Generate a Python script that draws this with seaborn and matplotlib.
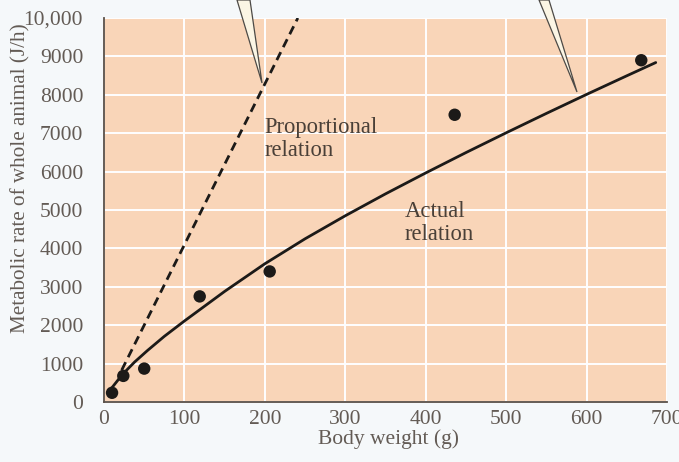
import numpy as np
import pandas as pd
import matplotlib
matplotlib.use("Agg")
from matplotlib import pyplot as plt
from matplotlib.patches import Polygon
import seaborn as sns

# measured animals
body_weight = [10, 24, 50, 119, 206, 436, 668]
metabolic_rate = [240, 680, 870, 2750, 3400, 7480, 8900]

# "actual relation" curve
actual_x = [9, 23, 38, 54, 75, 100, 150, 200, 250, 300, 350, 400,
            450, 500, 550, 600, 650, 686]
actual_y = [350, 720, 1040, 1340, 1710, 2110, 2880, 3600, 4250, 4850,
            5420, 5965, 6495, 7010, 7515, 8010, 8495, 8840]

# "proportional relation" dashed line end points
prop_x = [22, 241]
prop_y = [830, 10000]

x_ticks = [0, 100, 200, 300, 400, 500, 600, 700]
y_ticks = [0, 1000, 2000, 3000, 4000, 5000, 6000, 7000, 8000, 9000, 10000]
y_tick_labels = ["0", "1000", "2000", "3000", "4000", "5000",
                 "6000", "7000", "8000", "9000", "10,000"]

sns.set_theme(style="white")
plt.rcParams['font.family'] = ['Liberation Serif', 'DejaVu Serif']

peach = "#f9d5b8"
ink = "#1c1a18"
spine_col = "#5a5048"
label_col = "#635b55"

fig = plt.figure(figsize=(6.79, 4.62), dpi=100, facecolor="#f5f8fa")
ax = fig.add_axes([104 / 679, 1 - 402 / 462, 563 / 679, 384 / 462])
ax.set_facecolor(peach)

pts = pd.DataFrame({"w": body_weight, "r": metabolic_rate})
act = pd.DataFrame({"w": actual_x, "r": actual_y})
prop = pd.DataFrame({"w": prop_x, "r": prop_y})

sns.lineplot(data=prop, x="w", y="r", ax=ax, color=ink, lw=2.0,
             zorder=3).lines[-1].set_dashes((3.2, 2.0))
sns.lineplot(data=act, x="w", y="r", ax=ax, color=ink, lw=2.0, zorder=3)
sns.scatterplot(data=pts, x="w", y="r", ax=ax, color=ink, s=80,
                edgecolor="none", zorder=4)

ax.set_xlim(0, 700)
ax.set_ylim(0, 10000)
ax.set_xticks(x_ticks)
ax.set_yticks(y_ticks)
ax.set_yticklabels(y_tick_labels)
ax.grid(True, color="white", lw=1.4)
ax.set_axisbelow(True)

for side in ["top", "right"]:
    ax.spines[side].set_visible(False)
for side in ["left", "bottom"]:
    ax.spines[side].set_color(spine_col)
    ax.spines[side].set_linewidth(1.3)

ax.tick_params(axis="both", direction="in", length=8, width=1.1,
               color=spine_col, labelsize=15.5, labelcolor=label_col)
ax.tick_params(axis="y", pad=15)
ax.tick_params(axis="x", pad=6)

ax.set_xlabel("Body weight (g)", fontsize=15.5, color=label_col)
ax.set_ylabel("Metabolic rate of whole animal (J/h)", fontsize=15.2,
              color=label_col)
ax.xaxis.set_label_coords(0.506, -0.072)
ax.yaxis.set_label_coords(-0.131, 0.582)

ax.text(200, 7410, "Proportional\nrelation", fontsize=16.3, color="#4a4038",
        va="top", ha="left", linespacing=1.12)
ax.text(374, 5242, "Actual\nrelation", fontsize=16.3, color="#4a4038",
        va="top", ha="left", linespacing=1.12)

# callout pointers coming from above the plot
for poly in ([(237, 0), (250, 0), (262, 83)],
             [(539, 0), (549, 0), (577, 92)]):
    pts_fig = [(px / 679, 1 - py / 462) for px, py in poly]
    fig.patches.append(Polygon(pts_fig, closed=True, transform=fig.transFigure,
                               facecolor="#fbf5e4", edgecolor="#4d4a46",
                               lw=0.9, zorder=10))

fig.savefig("out.png", dpi=100, facecolor=fig.get_facecolor())
